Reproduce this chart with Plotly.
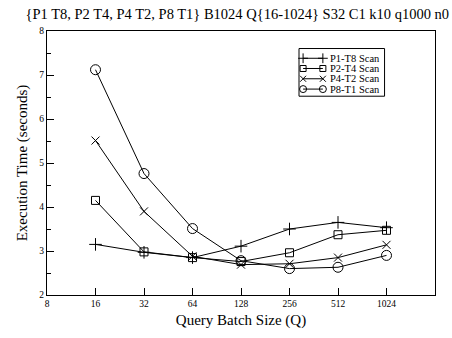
import plotly.graph_objects as go

batch_sizes = [16, 32, 64, 128, 256, 512, 1024]
p1_t8 = [3.15, 2.97, 2.85, 3.11, 3.50, 3.65, 3.53]
p2_t4 = [4.15, 2.98, 2.85, 2.76, 2.96, 3.37, 3.47]
p4_t2 = [5.51, 3.90, 2.88, 2.69, 2.71, 2.85, 3.14]
p8_t1 = [7.12, 4.76, 3.51, 2.78, 2.60, 2.63, 2.90]
series_names = ["P1-T8 Scan", "P2-T4 Scan", "P4-T2 Scan", "P8-T1 Scan"]
x_ticks = [8, 16, 32, 64, 128, 256, 512, 1024]

font = "Liberation Serif"
symbols = ["cross-thin-open", "square-open", "x-thin-open", "circle-open"]
sizes = [9, 8, 8, 10]
leg_sizes = [7, 6, 6, 7]

# legend layout (paper coordinates of the plot area)
leg_box = dict(x0=0.6495, x1=0.870, y0=0.753, y1=0.9336)
leg_rows = [0.8967, 0.858, 0.819, 0.780]
leg_x0, leg_x1, leg_tx = 0.660, 0.711, 0.728

fig = go.Figure()
for name, ys, sym, sz in zip(series_names, [p1_t8, p2_t4, p4_t2, p8_t1], symbols, sizes):
    fig.add_trace(go.Scatter(
        x=batch_sizes, y=ys, name=name, mode="lines+markers", showlegend=False,
        line=dict(color="black", width=1),
        marker=dict(symbol=sym, size=sz, color="black", line=dict(color="black", width=1)),
    ))

fig.add_shape(type="rect", xref="paper", yref="paper", **leg_box,
              line=dict(color="black", width=1), fillcolor="rgba(0,0,0,0)", layer="above")
for name, ry, sym, sz in zip(series_names, leg_rows, symbols, leg_sizes):
    fig.add_trace(go.Scatter(
        x=[leg_x0, leg_x1], y=[ry, ry], xaxis="x2", yaxis="y2", mode="lines+markers",
        showlegend=False, hoverinfo="skip",
        line=dict(color="black", width=1),
        marker=dict(symbol=sym, size=sz, color="black", line=dict(color="black", width=1)),
    ))
    fig.add_annotation(text=name, xref="paper", yref="paper", x=leg_tx, y=ry,
                       xanchor="left", yanchor="middle", showarrow=False,
                       borderpad=0,
                       font=dict(size=10.5, family=font, color="black"))

fig.update_layout(
    width=452, height=338,
    margin=dict(l=47, r=17, t=31, b=36),
    paper_bgcolor="white", plot_bgcolor="white",
    font=dict(family=font, color="black"),
    title=dict(text="{P1 T8, P2 T4, P4 T2, P8 T1} B1024 Q{16-1024} S32 C1 k10 q1000 n0",
               x=0.525, xanchor="center", y=0.958, yanchor="middle",
               font=dict(size=14.5, family=font)),
    showlegend=False,
    xaxis2=dict(overlaying="x", range=[0, 1], visible=False, domain=[0, 1]),
    yaxis2=dict(overlaying="y", range=[0, 1], visible=False, domain=[0, 1]),
    yaxis=dict(
        range=[2, 8], dtick=1,
        ticks="inside", ticklen=7, tickwidth=1, tickcolor="black",
        minor=dict(dtick=0.5, ticks="inside", ticklen=4, tickcolor="black"),
        showline=True, linecolor="black", linewidth=1, mirror=True,
        showgrid=False, zeroline=False,
        tickfont=dict(size=9.5, family=font),
        title=dict(text="Execution Time (seconds)", font=dict(size=15, family=font), standoff=8),
    ),
    xaxis=dict(
        type="log", range=[0.90309, 3.31133],
        tickvals=x_ticks, ticktext=[str(v) for v in x_ticks],
        ticks="inside", ticklen=7, tickwidth=1, tickcolor="black",
        showline=True, linecolor="black", linewidth=1, mirror=True,
        showgrid=False, zeroline=False,
        tickfont=dict(size=9.5, family=font),
        title=dict(text="Query Batch Size (Q)", font=dict(size=15, family=font), standoff=6),
    ),
)

fig.write_html("out.html")
